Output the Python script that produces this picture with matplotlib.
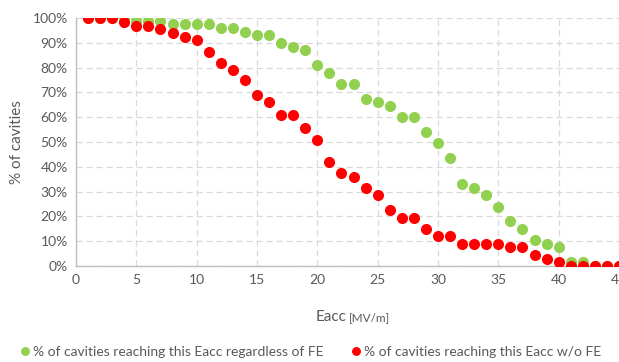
import matplotlib
matplotlib.use("Agg")
import matplotlib.pyplot as plt

# Eacc steps in MV/m
eacc = list(range(1, 46))

# % of cavities reaching this Eacc regardless of FE
pct_all = [100, 100, 100, 100, 99, 99, 99, 97.5, 97.5, 97.5,
           97.5, 96, 96, 94.5, 93, 93, 90, 88.5, 87, 81,
           78, 73.5, 73.5, 67.5, 66, 64.5, 60, 60, 54, 49.5,
           43.5, 33, 31.5, 28.5, 24, 18, 15, 10.5, 9, 7.5,
           1.5, 1.5, 0, 0, 0]

# % of cavities reaching this Eacc w/o FE
pct_no_fe = [100, 100, 100, 98.5, 97, 97, 95.5, 94, 92.5, 91,
             86.5, 82, 79, 75, 69, 66, 61, 61, 55.5, 51,
             42, 37.5, 36, 31.5, 28.5, 22.5, 19.5, 19.5, 15, 12,
             12, 9, 9, 9, 9, 7.5, 7.5, 4.5, 3, 1.5,
             0, 0, 0, 0, 0]

xticks = list(range(0, 46, 5))
yticks = list(range(0, 101, 10))

green = "#92D050"
red = "#FF0000"
txt = "#595959"

plt.rcParams['font.family'] = ['Lato', 'DejaVu Sans']

fig = plt.figure(figsize=(6.19, 3.62), dpi=100)
ax = fig.add_axes([0.1228, 0.2652, 0.8772, 0.6848])

ax.plot(eacc, pct_all, 'o', color=green, markersize=8, markeredgewidth=0,
        label="% of cavities reaching this Eacc regardless of FE", zorder=3)
ax.plot(eacc, pct_no_fe, 'o', color=red, markersize=8, markeredgewidth=0,
        label="% of cavities reaching this Eacc w/o FE", zorder=4)

ax.set_xlim(0, 45)
ax.set_ylim(0, 100)
ax.set_xticks(xticks)
ax.set_yticks(yticks)
ax.set_yticklabels([f"{v}%" for v in yticks])
ax.tick_params(length=0, labelsize=10, colors=txt, pad=6)

ax.grid(True, color="#d9d9d9", linestyle=(0, (5, 3)), linewidth=0.9)
ax.set_axisbelow(True)
for s in ["top", "right"]:
    ax.spines[s].set_visible(False)
for s in ["left", "bottom"]:
    ax.spines[s].set_color("#bfbfbf")
    ax.spines[s].set_linewidth(1)

ax.set_ylabel("% of cavities", fontsize=11, color=txt, labelpad=6)
fig.text(0.559, 0.114, "Eacc", fontsize=11, color=txt, ha='right', va='baseline')
fig.text(0.564, 0.114, "[MV/m]", fontsize=8.5, color=txt, ha='left', va='baseline')

fig.legend(loc="center", bbox_to_anchor=(0.5, 0.027), ncol=2, frameon=False,
           fontsize=10, labelcolor=txt, handletextpad=0.1, columnspacing=1.8,
           markerscale=0.8, handlelength=1)

fig.savefig("out.png", dpi=100)
